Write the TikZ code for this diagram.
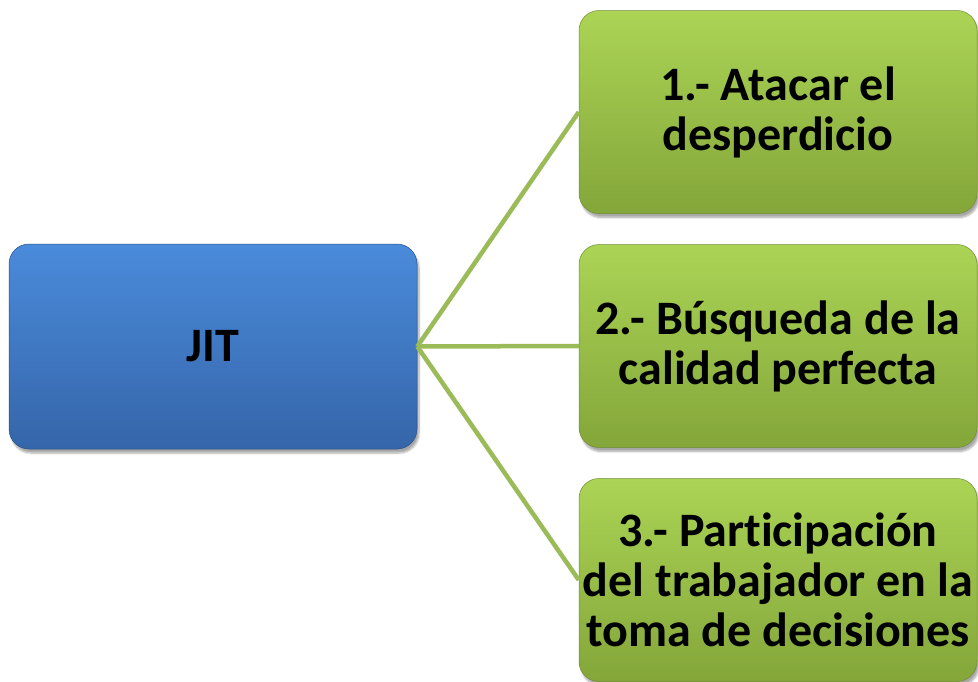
\documentclass[tikz,border=0pt]{standalone}
\usepackage{fontspec}
\setmainfont{Carlito}[RawFeature=-liga]
\usetikzlibrary{shadows.blur}
\definecolor{bluetop}{HTML}{4A8BDB}
\definecolor{bluebot}{HTML}{3565A9}
\definecolor{greentop}{HTML}{ABD455}
\definecolor{greenbot}{HTML}{84A63A}
\definecolor{linkcol}{HTML}{9BBB59}
\tikzset{
  boxbase/.style={rounded corners=20pt, inner sep=0pt, align=center,
    font=\fontsize{48}{50}\selectfont\bfseries,
    blur shadow={shadow xshift=2pt, shadow yshift=-4pt, shadow blur steps=6, shadow opacity=35}},
  bluebox/.style={boxbase, top color=bluetop, bottom color=bluebot,
    draw=bluebot!80!black, line width=0.5pt,
    minimum width=408pt, minimum height=205pt},
  greenbox/.style={boxbase, top color=greentop, bottom color=greenbot,
    draw=greenbot!85!black, line width=0.5pt,
    minimum width=398pt, minimum height=203pt},
  link/.style={draw=linkcol, line width=4.5pt}
}
\begin{document}
\begin{tikzpicture}[x=1pt,y=-1pt]
\useasboundingbox (0,0) rectangle (978,681);
\node[bluebox] (jit) at (213,346.5) {JIT};
\node[greenbox] (b1) at (778,112) {1.- Atacar el\\desperdicio};
\node[greenbox] (b2) at (778,346) {2.- Búsqueda de la\\calidad perfecta};
\node[greenbox] (b3) at (778,580) {3.- Participación\\del trabajador en la\\toma de decisiones};
\draw[link] (jit.east) -- (b1.west);
\draw[link] (jit.east) -- (b2.west);
\draw[link] (jit.east) -- (b3.west);
\end{tikzpicture}
\end{document}
